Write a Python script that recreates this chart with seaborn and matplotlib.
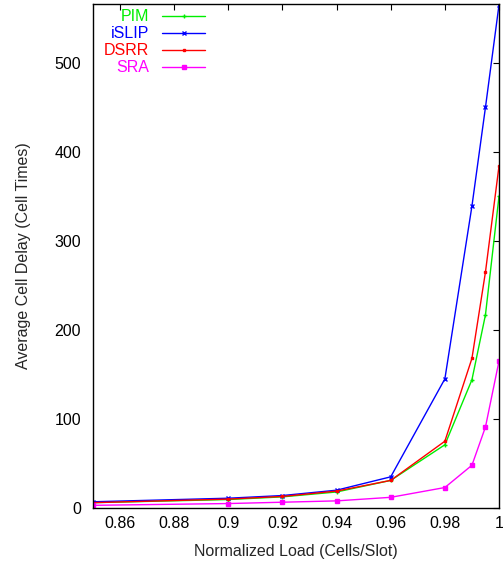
#!/usr/bin/env python3

import pandas as pd
import matplotlib
matplotlib.use('Agg')
import matplotlib.pyplot as plt
from matplotlib.ticker import FormatStrFormatter, MultipleLocator
import seaborn as sns

load = [0.85, 0.90, 0.92, 0.94, 0.96, 0.98, 0.99, 0.995, 1.0]
pim = [6, 9.5, 12.5, 18, 31, 71, 144, 217, 350]
islip = [7, 11, 14, 20, 35, 145, 339, 450, 565]
dsrr = [6, 10, 13, 19, 31, 75, 168, 265, 384]
sra = [3, 5, 6.5, 8, 12, 23, 48, 91, 165]

names = ['PIM', 'iSLIP', 'DSRR', 'SRA']
colors = ['#00ee00', '#0000ff', '#ff0000', '#ff00ff']
markers = ['+', 'x', 's', 's']
msizes = [3, 2.5, 2, 3]


def main():
    sns.set_style('white')
    plt.rcParams['font.family'] = ['Liberation Sans', 'DejaVu Sans']

    fig = plt.figure(figsize=(5.03, 5.63), dpi=100)
    ax = fig.add_axes([93 / 503, 55 / 563, 406 / 503, 504 / 563])

    rows = []
    for name, vals in zip(names, [pim, islip, dsrr, sra]):
        for x, y in zip(load, vals):
            rows.append({'load': x, 'delay': y, 'alg': name})
    data = pd.DataFrame(rows)

    for name, c, m, s in zip(names, colors, markers, msizes):
        sns.lineplot(x='load', y='delay', data=data[data['alg'] == name],
                     color=c, marker=m, markersize=s, markeredgecolor=c,
                     markeredgewidth=1, linewidth=1, label=name, ax=ax)

    ax.set_xlim(0.85, 1.0)
    ax.set_ylim(0, 566)
    ax.set_xticks([0.86, 0.88, 0.9, 0.92, 0.94, 0.96, 0.98, 1.0])
    ax.xaxis.set_major_formatter(FormatStrFormatter('%g'))
    ax.yaxis.set_major_locator(MultipleLocator(100))
    ax.tick_params(direction='in', top=True, right=True, length=4,
                   width=0.8, labelsize=11.5, colors='black')
    ax.tick_params(axis='x', pad=6)
    ax.tick_params(axis='y', pad=8.5)
    for sp in ax.spines.values():
        sp.set_color('black')
        sp.set_linewidth(1)

    ax.set_xlabel('Normalized Load (Cells/Slot)', fontsize=11.5, labelpad=9)
    ax.set_ylabel('Average Cell Delay (Cell Times)', fontsize=11.5,
                  labelpad=17)

    leg = ax.legend(loc='upper left', bbox_to_anchor=(0.0, 1.012),
                    frameon=False, markerfirst=False, handlelength=2.7,
                    handletextpad=0.8, labelspacing=0.13, fontsize=11.5,
                    borderaxespad=0.3)
    for t, c in zip(leg.get_texts(), colors):
        t.set_color(c)

    plt.savefig('out.png', dpi=100)


if __name__ == '__main__':
    main()
